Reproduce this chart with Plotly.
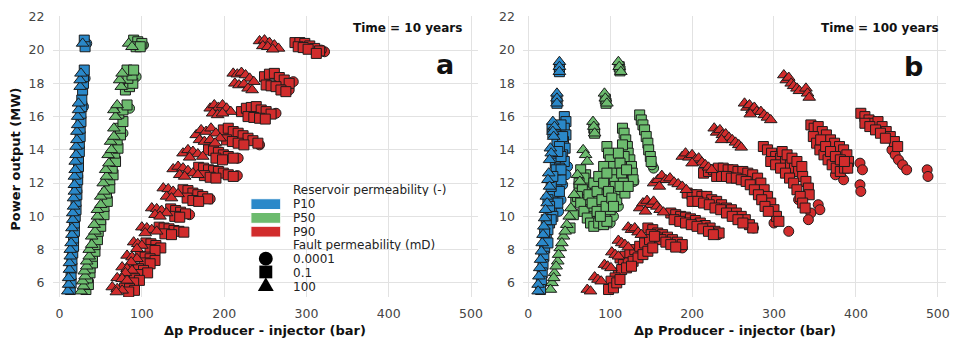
import plotly.graph_objects as go

# ---------------------------------------------------------------------------
# Data: Δp producer-injector (bar) vs power output (MW)
# Panel a = 10 years, panel b = 100 years
# Reservoir permeability P10 / P50 / P90 (colour), fault permeability (symbol)
#   circle = 0.0001 mD, square = 0.1 mD, triangle = 100 mD
# ---------------------------------------------------------------------------

# ---- Time = 10 years -------------------------------------------------------
a_p10_tri_x = [10, 11, 11, 12, 12, 13, 13, 14, 15, 15, 16, 16, 17, 17, 18, 18, 18, 19, 19, 20, 20,
               21, 21, 22, 22, 23, 23, 25, 25, 26, 28]
a_p10_tri_y = [5.5, 5.9, 6.3, 6.8, 7.2, 7.6, 8.0, 8.4, 8.9, 9.3, 9.8, 10.2, 10.6, 11.1, 11.5, 11.9,
               12.4, 12.8, 13.3, 13.7, 14.2, 14.6, 15.1, 15.5, 16.0, 16.4, 16.8, 17.8, 18.2, 18.6,
               20.4]
a_p10_sq_x = [13, 14, 14, 15, 15, 16, 17, 17, 18, 18, 19, 20, 20, 21, 21, 22, 22, 23, 23, 24, 24,
              25, 25, 26, 26, 27, 27, 28, 29, 29, 30, 30, 31]
a_p10_sq_y = [5.6, 6.0, 6.5, 6.9, 7.4, 7.8, 8.2, 8.7, 9.1, 9.6, 10.0, 10.4, 10.9, 11.3, 11.7, 12.2,
              12.6, 13.0, 13.5, 13.9, 14.4, 14.8, 15.3, 15.7, 16.2, 16.6, 17.0, 17.6, 18.0, 18.4,
              18.8, 20.6, 20.2]
a_p10_ci_x = [29, 31, 33]
a_p10_ci_y = [16.6, 18.3, 20.4]

a_p50_tri_x = [26, 29, 28, 31, 30, 33, 33, 36, 36, 39, 39, 43, 42, 46, 46, 50, 50, 54, 53, 57, 56,
               60, 59, 63, 62, 66, 66, 68, 66, 70, 75, 73, 76, 84, 88]
a_p50_tri_y = [5.5, 5.8, 6.1, 6.4, 6.7, 7.0, 7.3, 7.6, 8.0, 8.3, 8.8, 9.1, 9.5, 10.0, 10.4, 10.7,
               11.2, 11.5, 12.0, 12.4, 12.8, 13.2, 13.7, 14.0, 14.5, 14.8, 15.3, 16.0, 16.4, 16.7,
               17.8, 18.2, 18.6, 20.4, 20.2]
a_p50_sq_x = [32, 35, 34, 37, 37, 40, 40, 43, 43, 46, 47, 50, 50, 54, 54, 58, 57, 61, 61, 65, 64,
              68, 67, 71, 70, 74, 74, 77, 72, 77, 82, 80, 85, 89, 83, 88, 82, 90, 90, 95, 100, 93, 98]
a_p50_sq_y = [5.6, 5.9, 6.3, 6.6, 6.9, 7.2, 7.6, 7.9, 8.3, 8.6, 9.1, 9.4, 9.8, 10.1, 10.6, 10.9,
              11.4, 11.7, 12.2, 12.5, 12.9, 13.3, 13.8, 14.1, 14.6, 14.9, 15.3, 15.7, 16.2, 16.4,
              16.7, 17.6, 17.8, 18.0, 18.3, 18.5, 18.8, 18.8, 20.6, 20.5, 20.4, 20.2, 20.2]
a_p50_ci_x = [102, 93, 85, 77]
a_p50_ci_y = [20.3, 18.4, 16.5, 15.0]

a_p90_tri_x = [243, 249, 255, 261, 266, 247, 253, 259,
               211, 216, 221, 226, 231, 236, 213, 218, 224, 229, 234,
               183, 188, 193, 198, 203, 208, 186, 192, 198,
               166, 172, 178, 184, 190, 195, 170, 176, 183, 189,
               150, 156, 162, 168, 174, 158,
               138, 144, 150, 156, 162, 168, 146, 152,
               126, 132, 138, 144, 130, 136,
               112, 118, 124, 130, 116, 122,
               100, 106, 112, 118, 104,
               90, 95, 100, 94,
               82, 88, 94, 87,
               76, 82, 88, 80,
               70, 76, 82,
               64, 70, 76, 69]
a_p90_tri_y = [20.55, 20.6, 20.45, 20.3, 20.1, 20.25, 20.2, 20.05,
               18.6, 18.55, 18.65, 18.5, 18.3, 18.1, 18.0, 17.9, 17.95, 17.7, 17.6,
               16.5, 16.7, 16.55, 16.7, 16.5, 16.3, 16.2, 16.1, 16.2,
               14.9, 15.2, 15.1, 15.3, 15.0, 14.7, 14.6, 14.5, 14.6, 14.4,
               13.8, 14.0, 13.9, 13.75, 13.6, 13.55,
               12.85, 13.0, 12.9, 12.75, 12.6, 12.5, 12.5, 12.4,
               11.7, 11.65, 11.5, 11.35, 11.2, 11.1,
               10.5, 10.45, 10.35, 10.2, 10.1, 10.0,
               9.35, 9.3, 9.2, 9.1, 9.0,
               8.45, 8.35, 8.25, 8.05,
               7.65, 7.55, 7.45, 7.25,
               6.95, 6.85, 6.75, 6.6,
               6.3, 6.25, 6.15,
               5.75, 5.65, 5.55, 5.45]
a_p90_sq_x = [286, 292, 298, 304, 310, 316, 290, 296, 302, 312,
              249, 255, 261, 267, 273, 279, 251, 257, 263, 269, 275,
              221, 227, 233, 239, 245, 251, 257, 229, 236, 243, 250,
              199, 205, 211, 217, 223, 229, 235, 241, 203, 210, 217, 224,
              181, 187, 193, 199, 205, 211, 190, 198,
              169, 175, 181, 187, 193, 199, 205, 211, 176, 183, 190,
              150, 156, 162, 168, 174, 180, 155, 162, 169,
              135, 141, 147, 153, 140, 146,
              121, 127, 133, 139, 145, 151, 128, 136,
              105, 111, 117, 123, 110, 116,
              98, 104, 110, 116, 103, 110,
              90, 96, 102, 107, 95,
              85, 91, 97, 90,
              79, 85, 91, 84]
a_p90_sq_y = [20.45, 20.45, 20.4, 20.25, 20.1, 19.95, 20.2, 20.15, 20.05, 19.8,
              18.4, 18.55, 18.6, 18.35, 18.2, 18.0, 17.9, 17.85, 17.8, 17.6, 17.5,
              16.3, 16.5, 16.55, 16.6, 16.4, 16.3, 16.15, 16.0, 15.95, 15.9, 15.85,
              15.2, 15.3, 15.1, 15.0, 14.85, 14.7, 14.55, 14.4, 14.6, 14.5, 14.4, 14.3,
              14.0, 13.95, 13.85, 13.7, 13.6, 13.5, 13.5, 13.4,
              12.95, 12.9, 12.8, 12.75, 12.7, 12.6, 12.5, 12.4, 12.45, 12.35, 12.3,
              11.6, 11.55, 11.4, 11.3, 11.2, 11.05, 11.1, 10.95, 10.9,
              10.45, 10.35, 10.25, 10.15, 10.0, 9.95,
              9.35, 9.3, 9.25, 9.15, 9.1, 9.05, 8.95, 8.9,
              8.4, 8.35, 8.25, 8.1, 8.0, 7.95,
              7.6, 7.55, 7.45, 7.35, 7.2, 7.15,
              6.9, 6.85, 6.75, 6.6, 6.5,
              6.3, 6.25, 6.15, 6.0,
              5.7, 5.65, 5.55, 5.45]
a_p90_ci_x = [322, 318, 284, 279, 263, 243, 217, 216, 183, 158]
a_p90_ci_y = [19.9, 20.0, 18.1, 17.6, 16.2, 14.3, 13.5, 12.45, 11.05, 10.1]

# ---- Time = 100 years ------------------------------------------------------
b_p10_tri_x = [38, 38, 38, 35, 35, 35, 30, 32, 30, 31, 27, 28, 26, 25, 24, 26, 22, 23, 21, 20, 19,
               18, 17, 16, 15, 14, 13, 12, 12]
b_p10_tri_y = [19.3, 19.0, 18.7, 17.4, 17.1, 16.8, 15.7, 15.4, 15.1, 14.8, 14.1, 13.8, 13.4, 12.6,
               12.2, 11.8, 11.2, 10.8, 10.4, 9.9, 9.4, 8.9, 8.4, 7.9, 7.4, 6.9, 6.4, 5.9, 5.5]
b_p10_sq_x = [38, 38, 35, 35, 29, 30, 44, 46, 44, 46, 43, 45, 42, 44, 33, 35, 30, 33, 38, 36, 32, 35,
              30, 33, 28, 30, 26, 24, 22, 20, 19, 18, 17, 16, 15, 40, 38, 36,
              40, 42, 38, 40, 36, 34, 40, 30, 28, 24, 26, 28, 22, 20, 24]
b_p10_sq_y = [18.95, 18.7, 17.05, 16.8, 15.3, 15.0, 16.0, 15.7, 15.3, 14.9, 14.5, 14.1, 13.7, 13.3,
              15.0, 14.4, 13.6, 13.2, 12.9, 12.5, 12.0, 11.6, 11.2, 10.8, 10.4, 10.0, 9.6, 9.2, 8.6,
              8.1, 7.6, 7.1, 6.6, 6.1, 5.6, 12.2, 11.5, 10.8,
              15.5, 14.8, 14.2, 13.6, 13.9, 12.8, 12.8, 12.4, 11.8, 11.0, 10.6, 9.8, 9.8, 9.0, 8.4]
b_p10_ci_x = [48, 46, 42, 40, 37]
b_p10_ci_y = [13.0, 12.5, 11.9, 11.0, 10.3]

b_p50_tri_x = [110, 111, 113, 93, 94, 96, 79, 80, 81, 67, 70, 72, 60, 63, 56, 52, 47, 43, 39, 36, 32,
               29, 27, 50, 45, 41, 37, 34, 31]
b_p50_tri_y = [19.3, 19.0, 18.7, 17.4, 17.1, 16.8, 15.7, 15.4, 15.0, 14.0, 13.7, 13.3, 12.5, 12.1,
               11.3, 10.5, 9.5, 8.8, 8.1, 7.3, 6.6, 6.0, 5.6, 10.0, 9.1, 8.4, 7.7, 7.0, 6.3]
b_p50_sq_x = [111, 112, 94, 95, 80, 81, 136, 138, 140, 142, 144, 146, 147, 149, 150, 115, 117, 119,
              121, 122, 124, 126, 127, 128, 115, 117, 96, 98, 100, 102, 103, 105, 106, 108, 108, 70,
              74, 78, 70, 66, 72, 76, 80, 84, 82, 86, 90, 94, 88, 92, 96, 100, 62, 58, 55, 51,
              64, 68, 62, 66, 60, 64, 68, 72, 76, 80, 86, 92, 96, 74, 78, 84, 88, 80, 84, 90, 95,
              86, 92, 98, 102, 104, 92, 96, 110, 112, 114, 116, 118, 112, 120, 122]
b_p50_sq_y = [19.0, 18.75, 17.05, 16.8, 15.3, 15.0, 16.1, 15.8, 15.5, 15.2, 14.8, 14.4, 14.0, 13.6,
              13.3, 15.3, 15.0, 14.6, 14.2, 13.8, 13.4, 13.0, 12.6, 12.2, 14.3, 13.6, 14.2, 13.8,
              13.4, 13.0, 12.6, 12.2, 11.8, 11.4, 11.0, 12.5, 12.0, 11.6, 11.5, 11.0, 10.8, 10.4,
              10.0, 9.7, 11.0, 10.6, 10.2, 9.9, 11.8, 11.3, 10.8, 10.4, 11.8, 10.9, 10.1, 9.3,
              12.8, 12.3, 12.0, 11.6, 11.2, 10.8, 10.3, 9.9, 9.6, 9.4, 9.6, 9.5, 9.7, 11.3, 10.8,
              10.3, 10.0, 12.0, 11.5, 11.0, 10.6, 12.4, 12.0, 11.5, 11.1, 10.6, 13.0, 12.6, 13.8,
              13.2, 12.6, 12.0, 11.4, 11.8, 12.8, 11.8]
b_p50_ci_x = [153, 151, 129, 126, 110, 100, 104, 118, 122, 88]
b_p50_ci_y = [12.9, 13.1, 12.1, 12.4, 10.6, 9.6, 10.0, 11.6, 12.2, 9.5]

b_p90_tri_x = [312, 315, 318, 321, 324, 328, 331, 339, 341, 343,
               264, 267, 270, 273, 276, 279, 284, 288, 292, 296, 271,
               227, 230, 234, 237, 241, 245, 249, 253, 257, 260, 236,
               188, 192, 196, 200, 204, 208, 212, 216, 220, 224, 200,
               153, 158, 163, 168, 173, 178, 183, 188, 193, 160,
               136, 140, 145, 149, 153, 157, 161, 165, 143,
               122, 126, 130, 134, 138,
               110, 114, 118, 122,
               102, 106, 110,
               93, 97, 101,
               81, 85, 89,
               72, 76]
b_p90_tri_y = [18.5, 18.2, 18.35, 18.0, 17.85, 17.7, 17.55, 17.7, 17.4, 17.15,
               16.8, 16.55, 16.7, 16.4, 16.55, 16.3, 16.3, 16.1, 15.95, 15.8, 16.15,
               15.3, 15.05, 15.2, 14.9, 14.95, 14.75, 14.6, 14.45, 14.3, 14.15, 14.6,
               13.6, 13.8, 13.55, 13.7, 13.4, 13.5, 13.25, 13.1, 12.95, 12.8, 13.2,
               12.0, 12.2, 12.45, 12.2, 12.3, 12.05, 11.95, 11.8, 11.6, 11.8,
               10.5, 10.8, 10.95, 10.7, 10.9, 10.6, 10.4, 10.25, 10.3,
               9.35, 9.2, 9.3, 9.05, 8.9,
               8.55, 8.4, 8.3, 8.15,
               7.85, 7.7, 7.6,
               7.1, 7.0, 6.9,
               6.35, 6.2, 6.1,
               5.6, 5.5]
b_p90_sq_x = [406, 411, 416, 421, 427, 432, 437, 442, 447, 451, 411, 417, 424, 430, 436,
              345, 349, 354, 359, 364, 369, 374, 380, 385, 389, 391, 348, 352, 356, 361, 366, 371,
              376, 381, 386, 390, 357, 363, 369, 375, 381, 386,
              287, 292, 297, 302, 308, 314, 320, 325, 330, 335, 339, 342, 343, 296, 302, 308, 314,
              319, 324, 328, 332, 335, 338, 310, 316, 322, 328, 334,
              214, 220, 226, 232, 238, 244, 250, 256, 262, 268, 274, 280, 284, 288, 292, 296, 300,
              303, 306, 230, 236, 242, 248, 254, 260, 266, 271, 276, 281, 285, 289, 293,
              194, 200, 206, 212, 218, 224, 230, 236, 242, 248, 254, 260, 265, 270, 274, 200, 207,
              214, 221, 228, 235, 242, 249, 256, 262,
              174, 180, 186, 192, 198, 204, 210, 216, 222, 228, 233, 178, 185, 192, 199, 206, 213,
              220, 226,
              146, 152, 158, 164, 170, 176, 182, 188, 150, 156, 162, 168, 174, 180,
              112, 118, 124, 130, 136, 142, 148, 154, 116, 122, 128, 134, 140, 146, 152, 110, 114,
              120, 126, 106, 101, 98, 104, 108, 112]
b_p90_sq_y = [16.2, 16.0, 15.8, 15.6, 15.7, 15.4, 15.1, 14.8, 14.5, 14.2, 15.6, 15.4, 15.2, 15.0,
              14.7,
              15.5, 15.3, 15.4, 15.1, 14.9, 14.6, 14.4, 14.2, 14.0, 13.7, 13.3, 14.8, 14.4, 14.0,
              13.7, 13.4, 13.1, 12.9, 12.7, 12.9, 12.9, 14.6, 14.2, 13.9, 13.6, 13.4, 13.3,
              14.2, 14.0, 13.8, 13.6, 13.5, 13.3, 13.1, 12.9, 12.7, 12.4, 12.1, 11.7, 11.3, 13.3,
              13.1, 12.9, 12.6, 12.3, 12.0, 11.6, 11.2, 10.8, 10.5, 13.9, 13.7, 13.5, 13.3, 13.0,
              12.6, 12.7, 12.8, 12.9, 12.9, 12.8, 12.8, 12.7, 12.7, 12.6, 12.5, 12.3, 12.0, 11.6,
              11.2, 10.8, 10.4, 10.0, 9.7, 12.4, 12.4, 12.4, 12.3, 12.3, 12.2, 12.1, 11.9, 11.6,
              11.3, 11.0, 10.6, 10.3,
              11.4, 11.3, 11.3, 11.2, 11.2, 11.0, 10.9, 10.7, 10.5, 10.4, 10.2, 10.0, 9.8, 9.5, 9.3,
              10.9, 10.9, 10.8, 10.7, 10.5, 10.4, 10.2, 10.0, 9.8, 9.6,
              10.2, 10.1, 10.0, 9.95, 9.85, 9.75, 9.6, 9.45, 9.3, 9.1, 9.0, 9.8, 9.7, 9.6, 9.5,
              9.4, 9.25, 9.1, 8.9,
              9.3, 9.2, 9.0, 8.9, 8.75, 8.6, 8.45, 8.3, 8.9, 8.75, 8.6, 8.45, 8.3, 8.15,
              7.5, 7.6, 7.8, 8.0, 8.2, 8.4, 8.6, 8.8, 7.1, 7.2, 7.3, 7.5, 7.7, 7.9, 8.1, 6.6, 6.8,
              6.9, 7.0, 6.3, 6.1, 5.6, 5.7, 6.0, 6.2]
b_p90_ci_x = [444, 448, 452, 457, 462, 487, 488, 405, 408, 405, 406, 354, 356, 318, 275, 232, 385,
              375, 345, 342, 330, 300, 188]
b_p90_ci_y = [14.0, 13.7, 13.4, 13.1, 12.8, 12.8, 12.4, 13.2, 12.8, 11.9, 11.5, 10.7, 10.4, 9.1,
              9.3, 8.9, 12.2, 12.5, 10.2, 9.8, 11.0, 9.6, 8.1]

# ---- Axis ticks and labels -------------------------------------------------
x_ticks = [0, 100, 200, 300, 400, 500]
y_ticks = [6, 8, 10, 12, 14, 16, 18, 20, 22]
perm_labels = ["P10", "P50", "P90"]
fault_labels = ["0.0001", "0.1", "100"]
panel_titles = ["Time = 10 years", "Time = 100 years"]
panel_letters = ["a", "b"]

# ---------------------------------------------------------------------------
COLORS = {"P10": "#2a88c9", "P50": "#6cbb6e", "P90": "#d12c2c"}
EDGE = "#1c1c1c"
FONT = "DejaVu Sans"
W, H = 960, 344
# plot-area pixel box used for paper placement
L_PX, R_PX, T_PX, B_PX = 53, 951, 11, 297


def px(x):
    return (x - L_PX) / (R_PX - L_PX)


def py(y):
    return (B_PX - y) / (B_PX - T_PX)


panels = [
    {  # 10 years
        "P10": {"circle": (a_p10_ci_x, a_p10_ci_y), "square": (a_p10_sq_x, a_p10_sq_y),
                "triangle-up": (a_p10_tri_x, a_p10_tri_y)},
        "P50": {"circle": (a_p50_ci_x, a_p50_ci_y), "square": (a_p50_sq_x, a_p50_sq_y),
                "triangle-up": (a_p50_tri_x, a_p50_tri_y)},
        "P90": {"circle": (a_p90_ci_x, a_p90_ci_y), "square": (a_p90_sq_x, a_p90_sq_y),
                "triangle-up": (a_p90_tri_x, a_p90_tri_y)},
    },
    {  # 100 years
        "P10": {"circle": (b_p10_ci_x, b_p10_ci_y), "square": (b_p10_sq_x, b_p10_sq_y),
                "triangle-up": (b_p10_tri_x, b_p10_tri_y)},
        "P50": {"circle": (b_p50_ci_x, b_p50_ci_y), "square": (b_p50_sq_x, b_p50_sq_y),
                "triangle-up": (b_p50_tri_x, b_p50_tri_y)},
        "P90": {"circle": (b_p90_ci_x, b_p90_ci_y), "square": (b_p90_sq_x, b_p90_sq_y),
                "triangle-up": (b_p90_tri_x, b_p90_tri_y)},
    },
]

SIZES = {"circle": 10, "square": 10, "triangle-up": 11}

fig = go.Figure()
for i, panel in enumerate(panels):
    xa = "x" if i == 0 else "x2"
    ya = "y" if i == 0 else "y2"
    for perm in ["P90", "P50", "P10"]:
        for sym in ["circle", "square", "triangle-up"]:
            xs, ys = panel[perm][sym]
            fig.add_trace(go.Scatter(
                x=xs, y=ys, mode="markers", xaxis=xa, yaxis=ya, showlegend=False,
                hoverinfo="skip",
                marker=dict(symbol=sym, size=SIZES[sym], color=COLORS[perm],
                            line=dict(color=EDGE, width=1)),
            ))

axis_common = dict(
    showgrid=True, gridcolor="#e2e2e2", gridwidth=1, zeroline=False, showline=False,
    ticks="outside", tickcolor="rgba(0,0,0,0)",
    tickfont=dict(family=FONT, size=12.5, color="#444444"),
)
split_l = (480 - L_PX) / (R_PX - L_PX)
split_r = (526 - L_PX) / (R_PX - L_PX)
fig.update_layout(
    width=W, height=H,
    margin=dict(l=L_PX, r=W - R_PX, t=T_PX, b=H - B_PX),
    plot_bgcolor="white", paper_bgcolor="white",
    xaxis=dict(domain=[0, split_l], range=[-8, 508], tickvals=x_ticks, ticklen=5, **axis_common),
    xaxis2=dict(domain=[split_r, 1], range=[-6, 510], tickvals=x_ticks, ticklen=5, **axis_common),
    yaxis=dict(domain=[0, 1], range=[5.15, 22.05], tickvals=y_ticks, ticklen=5,
               anchor="x", **axis_common),
    yaxis2=dict(domain=[0, 1], range=[5.15, 22.05], tickvals=y_ticks, ticklen=5,
                anchor="x2", **axis_common),
)

ann = []
# axis titles
ann.append(dict(x=px(15), y=py(157), text="<b>Power output (MW)</b>", textangle=-90,
                font=dict(family=FONT, size=13, color="#111"), showarrow=False,
                xref="paper", yref="paper", xanchor="center", yanchor="middle"))
for cx in (266, 739):
    ann.append(dict(x=px(cx), y=py(331), text="<b>Δp Producer - injector (bar)</b>",
                    font=dict(family=FONT, size=13, color="#111"), showarrow=False,
                    xref="paper", yref="paper", xanchor="center", yanchor="middle"))
# panel labels
for rx, title in zip((466, 946), panel_titles):
    ann.append(dict(x=px(rx), y=py(23), text=f"<b>{title}</b>",
                    font=dict(family=FONT, size=12, color="#111"), showarrow=False,
                    xref="paper", yref="paper", xanchor="right", yanchor="middle"))
for cx, cy, letter in zip((447, 918), (60, 62), panel_letters):
    ann.append(dict(x=px(cx), y=py(cy), text=f"<b>{letter}</b>",
                    font=dict(family=FONT, size=27, color="#111"), showarrow=False,
                    xref="paper", yref="paper", xanchor="center", yanchor="middle"))

# legend block (tight line spacing)
leg_font = dict(family=FONT, size=12, color="#222")
leg_rows = [("Reservoir permeability (-)", 188)] + \
           list(zip(perm_labels, (202, 216, 230))) + \
           [("Fault permeability (mD)", 244)] + \
           list(zip(fault_labels, (258, 272, 286)))
for txt, yy in leg_rows:
    ann.append(dict(x=px(293), y=py(yy), text=txt, font=leg_font, showarrow=False,
                    height=13, borderpad=0, valign="middle",
                    xref="paper", yref="paper", xanchor="left", yanchor="middle"))
fig.update_layout(annotations=ann)

shapes = []
for perm, (y0, y1) in zip(perm_labels, ((197, 208), (211, 222), (225, 236))):
    shapes.append(dict(type="rect", xref="paper", yref="paper",
                       x0=px(252), x1=px(282), y0=py(y1), y1=py(y0),
                       fillcolor=COLORS[perm], line=dict(color="white", width=1)))
shapes.append(dict(type="circle", xref="paper", yref="paper",
                   x0=px(260), x1=px(274), y0=py(265), y1=py(251),
                   fillcolor="black", line=dict(width=0)))
shapes.append(dict(type="rect", xref="paper", yref="paper",
                   x0=px(260.5), x1=px(273.5), y0=py(278), y1=py(265),
                   fillcolor="black", line=dict(width=0)))
tri = f"M {px(267)} {py(277)} L {px(259)} {py(291)} L {px(275)} {py(291)} Z"
shapes.append(dict(type="path", xref="paper", yref="paper", path=tri,
                   fillcolor="black", line=dict(width=0)))
fig.update_layout(shapes=shapes)

fig.write_html("out.html")
